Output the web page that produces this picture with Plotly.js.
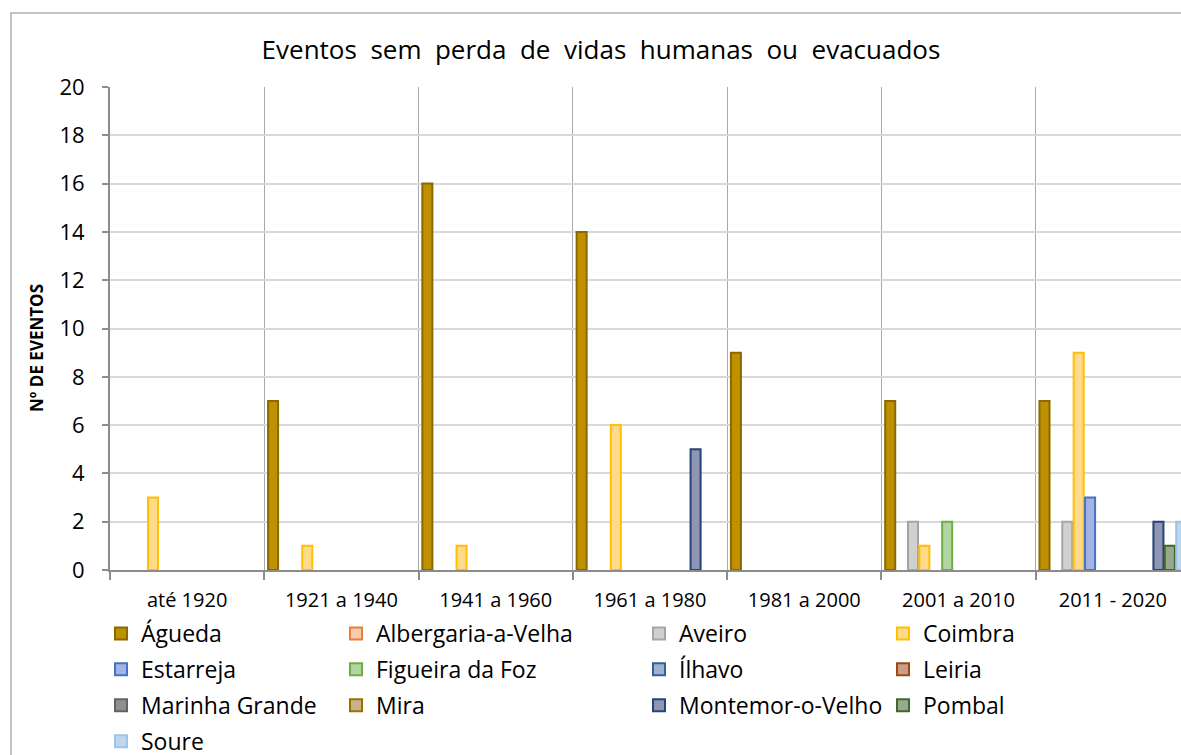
<!DOCTYPE html>
<html>
<head>
<meta charset="utf-8">
<script src="https://cdn.plot.ly/plotly-3.0.1.min.js"></script>
<style>
html,body{margin:0;padding:0;overflow:hidden;background:#fff;}
#frame{position:absolute;left:10px;top:12px;width:1400px;height:1000px;border:2px solid #c3c3c3;box-sizing:border-box;}
#chart{position:absolute;left:0;top:0;width:1200px;height:800px;}
</style>
</head>
<body>
<div id="frame"></div>
<div id="chart"></div>
<script>
const categories = ["até 1920","1921 a 1940","1941 a 1960","1961 a 1980","1981 a 2000","2001 a 2010","2011 - 2020"];
const seriesNames = ["Águeda","Albergaria-a-Velha","Aveiro","Coimbra","Estarreja","Figueira da Foz","Ílhavo","Leiria","Marinha Grande","Mira","Montemor-o-Velho","Pombal","Soure"];
const agueda      = [0, 7, 16, 14, 9, 7, 7];
const albergaria  = [0, 0, 0, 0, 0, 0, 0];
const aveiro      = [0, 0, 0, 0, 0, 2, 2];
const coimbra     = [3, 1, 1, 6, 0, 1, 9];
const estarreja   = [0, 0, 0, 0, 0, 0, 3];
const figueira    = [0, 0, 0, 0, 0, 2, 0];
const ilhavo      = [0, 0, 0, 0, 0, 0, 0];
const leiria      = [0, 0, 0, 0, 0, 0, 0];
const marinha     = [0, 0, 0, 0, 0, 0, 0];
const mira        = [0, 0, 0, 0, 0, 0, 0];
const montemor    = [0, 0, 0, 5, 0, 0, 2];
const pombal      = [0, 0, 0, 0, 0, 0, 1];
const soure       = [0, 0, 0, 0, 0, 0, 2];
const seriesValues = [agueda, albergaria, aveiro, coimbra, estarreja, figueira, ilhavo, leiria, marinha, mira, montemor, pombal, soure];
const fills   = ["#bf9000","#f8cbad","#d0d0d0","#ffd98c","#a3b3e3","#b2d6a1","#9eb2cf","#c99c8c","#909090","#c9b18c","#8e96b4","#98a98f","#bdd7ee"];
const borders = ["#8a6a00","#ed7d31","#a5a5a5","#ffc000","#4472c4","#70ad47","#2f6398","#9e480e","#636363","#997300","#264478","#43682b","#9dc3e6"];
const legendOf = ["legend","legend2","legend3","legend4","legend","legend2","legend3","legend4","legend","legend2","legend3","legend4","legend"];
const titleText = "Eventos&#160; sem&#160; perda&#160; de&#160; vidas&#160; humanas&#160; ou&#160; evacuados";
const yTitleText = "Nº DE EVENTOS";

const FONT = "Open Sans, Noto Sans, sans-serif";
const W = 1200, H = 800;
const PLOT_L = 110, PLOT_T = 87, PLOT_B = 570, PLOT_R = 1190;

// Zero counts leave no visible bar (as in the source chart), so they are not drawn.
const traces = seriesNames.map((name, i) => ({
  type: "bar",
  name: name,
  x: categories,
  y: seriesValues[i].map(v => (v > 0 ? v : null)),
  customdata: seriesValues[i],
  marker: {color: fills[i], line: {color: borders[i], width: 2}},
  legend: legendOf[i],
  legendgroup: "g" + i,
  hovertemplate: "%{x}<br>" + name + ": %{customdata}<extra></extra>"
}));

function leg(px) {
  return {
    xref: "container", yref: "container",
    x: px / W, y: 1 - 612 / H,
    xanchor: "left", yanchor: "top",
    orientation: "v",
    font: {family: FONT, size: 23, color: "#000"},
    bgcolor: "rgba(0,0,0,0)",
    itemwidth: 30,
    tracegroupgap: 3
  };
}

const layout = {
  width: W, height: H,
  margin: {l: PLOT_L, r: W - PLOT_R, t: PLOT_T, b: H - PLOT_B, autoexpand: false},
  paper_bgcolor: "rgba(0,0,0,0)",
  plot_bgcolor: "#fff",
  barmode: "group",
  bargap: 0.04,
  bargroupgap: 0.12,
  showlegend: true,
  title: {
    text: titleText,
    font: {family: FONT, size: 26, color: "#000"},
    x: 601 / W, xanchor: "center", xref: "container",
    y: 1 - 50 / H, yanchor: "middle", yref: "container"
  },
  xaxis: {
    type: "category",
    range: [-0.5, 6.5],
    tickson: "boundaries",
    showgrid: true,
    gridcolor: "#a9a9a9",
    gridwidth: 1,
    showline: true,
    linecolor: "#8c8c8c",
    linewidth: 2,
    ticks: "outside",
    ticklen: 8,
    tickcolor: "#8c8c8c",
    tickwidth: 2,
    ticklabelstandoff: 11,
    tickangle: 0,
    tickfont: {family: FONT, size: 20, color: "#000"},
    fixedrange: true
  },
  yaxis: {
    range: [0, 20],
    dtick: 2,
    tick0: 0,
    showgrid: true,
    gridcolor: "#d9d9d9",
    gridwidth: 2,
    zeroline: false,
    showline: true,
    linecolor: "#8c8c8c",
    linewidth: 2,
    ticks: "outside",
    ticklen: 6,
    tickcolor: "#8c8c8c",
    tickwidth: 2,
    ticklabelstandoff: 13,
    tickfont: {family: FONT, size: 22, color: "#000"},
    fixedrange: true
  },
  annotations: [{
    text: yTitleText,
    textangle: -90,
    xref: "paper", yref: "paper",
    x: (36 - PLOT_L) / (PLOT_R - PLOT_L),
    y: (PLOT_B - 348) / (PLOT_B - PLOT_T),
    xanchor: "center", yanchor: "middle",
    showarrow: false,
    font: {family: FONT, size: 17, color: "#000", weight: "bold"}
  }],
  legend: leg(101),
  legend2: leg(336),
  legend3: leg(639),
  legend4: leg(883)
};

Plotly.newPlot("chart", traces, layout, {displayModeBar: false});
</script>
</body>
</html>
